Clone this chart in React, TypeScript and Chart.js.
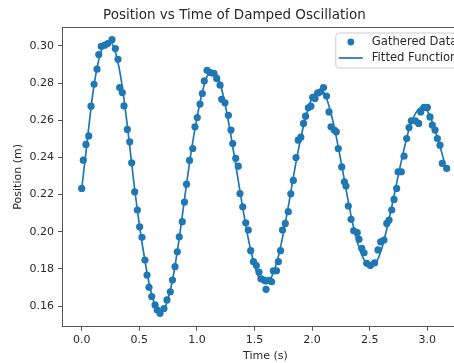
import React, { useEffect, useRef } from "react";
import { Chart, registerables } from "chart.js";

Chart.register(...registerables);

const times = [
  0.000, 0.014, 0.037, 0.061, 0.081, 0.107, 0.133, 0.148, 0.170, 0.200,
  0.226, 0.263, 0.292, 0.315, 0.330, 0.352, 0.367, 0.396, 0.417, 0.434,
  0.460, 0.483, 0.503, 0.523, 0.549, 0.567, 0.584, 0.608, 0.637, 0.656,
  0.680, 0.714, 0.740, 0.769, 0.788, 0.810, 0.830, 0.847, 0.873, 0.892,
  0.910, 0.936, 0.964, 0.983, 1.003, 1.027, 1.047, 1.064, 1.088, 1.118,
  1.148, 1.172, 1.201, 1.215, 1.244, 1.273, 1.296, 1.311, 1.337, 1.359,
  1.374, 1.398, 1.424, 1.446, 1.467, 1.491, 1.516, 1.539, 1.556, 1.585,
  1.600, 1.628, 1.649, 1.663, 1.691, 1.707, 1.726, 1.743, 1.767, 1.793,
  1.815, 1.837, 1.860, 1.880, 1.902, 1.925, 1.943, 1.967, 1.989, 2.005,
  2.025, 2.049, 2.075, 2.099, 2.125, 2.147, 2.164, 2.193, 2.210, 2.227,
  2.257, 2.280, 2.294, 2.314, 2.338, 2.361, 2.392, 2.407, 2.431, 2.451,
  2.474, 2.505, 2.542, 2.572, 2.595, 2.624, 2.648, 2.668, 2.691, 2.711,
  2.734, 2.746, 2.774, 2.798, 2.821, 2.841, 2.861, 2.896, 2.925, 2.943,
  2.971, 3.000, 3.023, 3.043, 3.067, 3.087, 3.110, 3.130, 3.168,
];

const positions = [
  0.2233, 0.2385, 0.2470, 0.2516, 0.2676, 0.2794, 0.2875, 0.2954, 0.2998, 0.3004,
  0.3013, 0.3034, 0.2986, 0.2928, 0.2776, 0.2749, 0.2677, 0.2551, 0.2484, 0.2371,
  0.2215, 0.2117, 0.2027, 0.1970, 0.1848, 0.1767, 0.1701, 0.1651, 0.1606, 0.1579,
  0.1561, 0.1587, 0.1633, 0.1677, 0.1740, 0.1812, 0.1892, 0.1973, 0.2054, 0.2160,
  0.2256, 0.2384, 0.2448, 0.2565, 0.2615, 0.2687, 0.2744, 0.2812, 0.2869, 0.2856,
  0.2852, 0.2825, 0.2789, 0.2713, 0.2694, 0.2627, 0.2547, 0.2475, 0.2395, 0.2353,
  0.2206, 0.2134, 0.2048, 0.2009, 0.1898, 0.1839, 0.1818, 0.1783, 0.1747, 0.1740,
  0.1690, 0.1738, 0.1731, 0.1790, 0.1790, 0.1839, 0.1898, 0.2009, 0.2045, 0.2108,
  0.2204, 0.2276, 0.2399, 0.2493, 0.2509, 0.2583, 0.2622, 0.2667, 0.2676, 0.2724,
  0.2717, 0.2747, 0.2753, 0.2776, 0.2730, 0.2645, 0.2565, 0.2547, 0.2538, 0.2448,
  0.2349, 0.2269, 0.2246, 0.2138, 0.2067, 0.2005, 0.1995, 0.1959, 0.1911, 0.1887,
  0.1830, 0.1818, 0.1832, 0.1902, 0.1946, 0.1955, 0.2045, 0.2063, 0.2117, 0.2174,
  0.2233, 0.2323, 0.2323, 0.2407, 0.2502, 0.2561, 0.2597, 0.2597, 0.2583, 0.2645,
  0.2669, 0.2669, 0.2618, 0.2574, 0.2547, 0.2502, 0.2466, 0.2368, 0.2341,
];

const fitTimes = [
  0.00, 0.05, 0.10, 0.15, 0.20, 0.25, 0.30, 0.35, 0.40, 0.45,
  0.50, 0.55, 0.60, 0.65, 0.70, 0.75, 0.80, 0.85, 0.90, 0.95,
  1.00, 1.05, 1.10, 1.15, 1.20, 1.25, 1.30, 1.35, 1.40, 1.45,
  1.50, 1.55, 1.60, 1.65, 1.70, 1.75, 1.80, 1.85, 1.90, 1.95,
  2.00, 2.05, 2.10, 2.15, 2.20, 2.25, 2.30, 2.35, 2.40, 2.45,
  2.50, 2.55, 2.60, 2.65, 2.70, 2.75, 2.80, 2.85, 2.90, 2.95,
  3.00, 3.05, 3.10, 3.15,
];

const fitValues = [
  0.223, 0.250, 0.276, 0.293, 0.301, 0.302, 0.295, 0.279, 0.255, 0.228,
  0.204, 0.184, 0.168, 0.159, 0.157, 0.164, 0.178, 0.198, 0.221, 0.243,
  0.261, 0.276, 0.285, 0.286, 0.280, 0.267, 0.250, 0.231, 0.212, 0.195,
  0.182, 0.174, 0.172, 0.176, 0.185, 0.199, 0.216, 0.234, 0.250, 0.263,
  0.272, 0.276, 0.275, 0.267, 0.254, 0.238, 0.221, 0.205, 0.193, 0.185,
  0.181, 0.183, 0.190, 0.202, 0.216, 0.231, 0.245, 0.257, 0.264, 0.267,
  0.265, 0.258, 0.248, 0.237,
];

const xTicks = [0.0, 0.5, 1.0, 1.5, 2.0, 2.5, 3.0];
const yTicks = [0.16, 0.18, 0.2, 0.22, 0.24, 0.26, 0.28, 0.3];

const BLUE = "#1f77b4";
const FONT = "'DejaVu Sans', sans-serif";
const TEXT = "#2a2a2a";
const SPINE = "#555555";

const framePlugin = {
  id: "frame",
  afterDatasetsDraw(chart: any) {
    const { ctx, chartArea: a } = chart;
    ctx.save();
    ctx.strokeStyle = SPINE;
    ctx.lineWidth = 1;
    ctx.beginPath();
    ctx.moveTo(a.left, a.top + 0.5);
    ctx.lineTo(a.right, a.top + 0.5);
    ctx.moveTo(a.right - 0.5, a.top);
    ctx.lineTo(a.right - 0.5, a.bottom);
    ctx.stroke();
    ctx.restore();
  },
};

const legendPlugin = {
  id: "mplLegend",
  afterDraw(chart: any) {
    const { ctx, chartArea: a } = chart;
    const ds = chart.data.datasets;
    const left = a.right - 133;
    const top = a.top + 6;
    const w = 128;
    const h = 35;
    ctx.save();
    ctx.beginPath();
    const r = 3;
    ctx.moveTo(left + r, top);
    ctx.lineTo(left + w - r, top);
    ctx.arcTo(left + w, top, left + w, top + r, r);
    ctx.lineTo(left + w, top + h - r);
    ctx.arcTo(left + w, top + h, left + w - r, top + h, r);
    ctx.lineTo(left + r, top + h);
    ctx.arcTo(left, top + h, left, top + h - r, r);
    ctx.lineTo(left, top + r);
    ctx.arcTo(left, top, left + r, top, r);
    ctx.closePath();
    ctx.fillStyle = "rgba(255,255,255,0.8)";
    ctx.fill();
    ctx.strokeStyle = "#cccccc";
    ctx.lineWidth = 1;
    ctx.stroke();

    const hx0 = left + 3;
    const hx1 = left + 27;
    const tx = left + 36;
    const y1 = top + 9;
    const y2 = top + 25;
    ctx.fillStyle = BLUE;
    ctx.beginPath();
    ctx.arc((hx0 + hx1) / 2, y1, 3.4, 0, Math.PI * 2);
    ctx.fill();
    ctx.strokeStyle = BLUE;
    ctx.lineWidth = 1.7;
    ctx.beginPath();
    ctx.moveTo(hx0, y2);
    ctx.lineTo(hx1, y2);
    ctx.stroke();

    ctx.fillStyle = TEXT;
    ctx.font = `11.6px ${FONT}`;
    ctx.textBaseline = "middle";
    ctx.textAlign = "left";
    ctx.fillText(ds[0].label, tx, y1);
    ctx.fillText(ds[1].label, tx, y2);
    ctx.restore();
  },
};

export default function App() {
  const ref = useRef<HTMLCanvasElement | null>(null);

  useEffect(() => {
    if (!ref.current) return;
    const chart = new Chart(ref.current, {
      type: "scatter",
      data: {
        datasets: [
          {
            label: "Gathered Data",
            data: times.map((t, i) => ({ x: t, y: positions[i] })),
            backgroundColor: BLUE,
            borderColor: BLUE,
            borderWidth: 0,
            pointRadius: 3.6,
            pointHoverRadius: 3.6,
            showLine: false,
            order: 1,
          },
          {
            label: "Fitted Function",
            data: fitTimes.map((t, i) => ({ x: t, y: fitValues[i] })),
            borderColor: BLUE,
            backgroundColor: BLUE,
            borderWidth: 1.7,
            pointRadius: 0,
            showLine: true,
            tension: 0.4,
            cubicInterpolationMode: "monotone",
            order: 2,
          } as any,
        ],
      },
      options: {
        responsive: false,
        animation: false,
        devicePixelRatio: 1,
        layout: { padding: { left: 0, right: 21.2, top: 0, bottom: 0 } },
        plugins: {
          legend: { display: false },
          tooltip: { enabled: false },
          title: {
            display: true,
            text: "Position vs Time of Damped Oscillation",
            color: TEXT,
            font: { family: FONT, size: 13.5, weight: "normal", lineHeight: 1.2 },
            padding: { top: 6.9, bottom: 3.9 },
          },
        },
        scales: {
          x: {
            type: "linear",
            min: -0.171,
            max: 3.36,
            afterBuildTicks: (s: any) => {
              s.ticks = xTicks.map((v) => ({ value: v }));
            },
            afterFit: (s: any) => {
              s.height = 36.3;
            },
            ticks: {
              color: TEXT,
              font: { family: FONT, size: 11 },
              padding: 3,
              maxRotation: 0,
              autoSkip: false,
              callback: (v: any) => Number(v).toFixed(1),
            },
            grid: {
              display: true,
              drawOnChartArea: false,
              drawTicks: true,
              tickLength: 4,
              tickColor: SPINE,
              tickWidth: 1,
            },
            border: { display: true, color: SPINE, width: 1 },
            title: {
              display: true,
              text: "Time (s)",
              color: TEXT,
              font: { family: FONT, size: 11, lineHeight: 1.2 },
              padding: { top: 0, bottom: 0.4 },
            },
          },
          y: {
            type: "linear",
            min: 0.1489,
            max: 0.3102,
            afterBuildTicks: (s: any) => {
              s.ticks = yTicks.map((v) => ({ value: v }));
            },
            afterFit: (s: any) => {
              s.width = 62;
            },
            ticks: {
              color: TEXT,
              font: { family: FONT, size: 11 },
              padding: 4,
              autoSkip: false,
              callback: (v: any) => Number(v).toFixed(2),
            },
            grid: {
              display: true,
              drawOnChartArea: false,
              drawTicks: true,
              tickLength: 4,
              tickColor: SPINE,
              tickWidth: 1,
            },
            border: { display: true, color: SPINE, width: 1 },
            title: {
              display: true,
              text: "Position (m)",
              color: TEXT,
              font: { family: FONT, size: 11, lineHeight: 1.2 },
              padding: { top: 12, bottom: 0 },
            },
          },
        },
      },
      plugins: [framePlugin, legendPlugin],
    });
    return () => chart.destroy();
  }, []);

  return (
    <div
      style={{
        position: "fixed",
        left: 0,
        top: 0,
        width: 454,
        height: 363,
        overflow: "hidden",
        background: "#ffffff",
      }}
    >
      <canvas ref={ref} width={490} height={363} style={{ display: "block" }} />
    </div>
  );
}
